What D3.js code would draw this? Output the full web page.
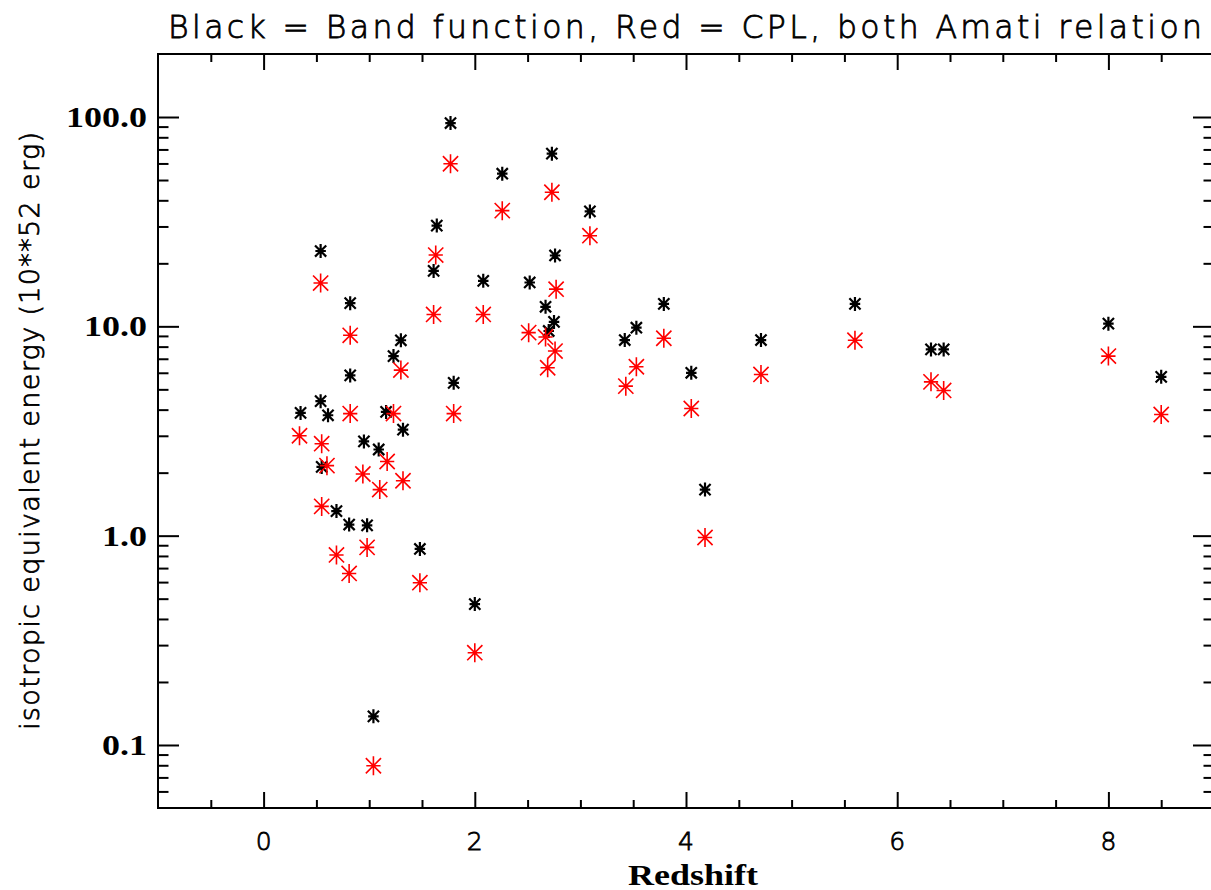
<!DOCTYPE html>
<html>
<head>
<meta charset="utf-8">
<script src="https://cdn.jsdelivr.net/npm/d3@7"></script>
<style>
  html, body { margin: 0; padding: 0; background: #fff; overflow: hidden; }
  svg { display: block; }
  .sans { font-family: "DejaVu Sans", sans-serif; font-weight: 200; fill: #000; stroke: #000; stroke-width: 0.8; }
  .serif { font-family: "Liberation Serif", "DejaVu Serif", serif; font-weight: bold; fill: #000; }
</style>
</head>
<body>
<svg id="chart"></svg>
<script>
// Band function fits (black)
const bandZ = [0.35, 0.54, 0.54, 0.55, 0.61, 0.69, 0.81, 0.82, 0.82, 0.95,
  0.98, 1.04, 1.09, 1.16, 1.23, 1.30, 1.32, 1.48, 1.61, 1.64,
  1.77, 1.80, 2.00, 2.08, 2.26, 2.52, 2.67, 2.70, 2.73, 2.75,
  2.76, 3.09, 3.42, 3.53, 3.79, 4.05, 4.18, 4.71, 5.60, 6.32,
  6.44, 8.00, 8.50];
const bandE = [3.86, 22.9, 4.39, 2.13, 3.76, 1.31, 1.13, 12.9, 5.83, 2.82,
  1.12, 0.137, 2.58, 3.9, 7.21, 8.58, 3.21, 0.864, 18.4, 30.3,
  93.6, 5.37, 0.471, 16.5, 53.6, 16.2, 12.4, 9.5, 66.8, 10.5,
  21.8, 35.4, 8.6, 9.85, 12.8, 6.0, 1.66, 8.6, 12.8, 7.76,
  7.76, 10.3, 5.74];

// CPL fits (red)
const cplZ = [0.34, 0.54, 0.55, 0.55, 0.60, 0.69, 0.81, 0.82, 0.82, 0.94,
  0.98, 1.04, 1.10, 1.17, 1.23, 1.30, 1.32, 1.48, 1.61, 1.63,
  1.77, 1.80, 2.00, 2.08, 2.26, 2.51, 2.67, 2.69, 2.73, 2.76,
  2.77, 3.09, 3.43, 3.53, 3.79, 4.05, 4.18, 4.71, 5.60, 6.32,
  6.44, 8.00, 8.50];
const cplE = [3.0, 16.1, 2.75, 1.38, 2.16, 0.809, 0.66, 3.83, 9.06, 1.97,
  0.879, 0.0796, 1.66, 2.26, 3.83, 6.18, 1.83, 0.596, 11.4, 21.9,
  59.8, 3.83, 0.276, 11.4, 35.7, 9.33, 8.9, 6.34, 43.7, 7.62,
  15.05, 27.1, 5.18, 6.41, 8.77, 4.05, 0.98, 5.89, 8.58, 5.43,
  4.94, 7.21, 3.79];

const xTickValues = [0, 2, 4, 6, 8];
const xTickLabels = ["0", "2", "4", "6", "8"];
const yTickValues = [100, 10, 1, 0.1];
const yTickLabels = ["100.0", "10.0", "1.0", "0.1"];

const titleText = "Black = Band function, Red = CPL, both Amati relation";
const xTitle = "Redshift";
const yTitle = "isotropic equivalent energy (10**52 erg)";

const width = 1211, height = 890;
const plot = { left: 158, right: 1214, top: 54, bottom: 808 };

const svg = d3.select("#chart").attr("width", width).attr("height", height);

const x = d3.scaleLinear().domain([-1, 9]).range([plot.left, plot.right]);
const y = d3.scaleLog().domain([0.05, 200]).range([plot.bottom, plot.top]);

// minor ticks: every 0.5 on x, 2..9 per decade on y
const xMinor = d3.range(-0.5, 9, 0.5).filter(v => !xTickValues.includes(v));
let yMinor = [];
[0.01, 0.1, 1, 10, 100].forEach(d => {
  for (let m = 2; m <= 9; m++) {
    const v = d * m;
    if (v > 0.05 + 1e-9 && v < 200 - 1e-9) yMinor.push(v);
  }
});

function tickAxis(axisFn, scale, values, size, transform) {
  const g = svg.append("g")
    .attr("transform", transform)
    .call(axisFn(scale).tickValues(values).tickSize(size).tickFormat(""));
  g.select(".domain").remove();
  g.selectAll("line").attr("stroke", "#000").attr("stroke-width", 2);
}

tickAxis(d3.axisBottom, x, xTickValues, -16, `translate(0,${plot.bottom})`);
tickAxis(d3.axisBottom, x, xMinor, -8, `translate(0,${plot.bottom})`);
tickAxis(d3.axisTop, x, xTickValues, -16, `translate(0,${plot.top})`);
tickAxis(d3.axisTop, x, xMinor, -8, `translate(0,${plot.top})`);
tickAxis(d3.axisLeft, y, yTickValues, -21, `translate(${plot.left},0)`);
tickAxis(d3.axisLeft, y, yMinor, -10.5, `translate(${plot.left},0)`);
tickAxis(d3.axisRight, y, yTickValues, -21, `translate(${plot.right},0)`);
tickAxis(d3.axisRight, y, yMinor, -10.5, `translate(${plot.right},0)`);

// frame
svg.append("rect")
  .attr("x", plot.left).attr("y", plot.top)
  .attr("width", plot.right - plot.left).attr("height", plot.bottom - plot.top)
  .attr("fill", "none").attr("stroke", "#000").attr("stroke-width", 2);

// tick labels
svg.append("g").selectAll("text")
  .data(xTickValues)
  .join("text")
  .attr("class", "sans")
  .attr("x", d => x(d))
  .attr("y", 850)
  .attr("text-anchor", "middle")
  .attr("font-size", 25)
  .text((d, i) => xTickLabels[i]);

svg.append("g").selectAll("text")
  .data(yTickValues)
  .join("text")
  .attr("class", "serif")
  .attr("transform", d => `translate(147,${y(d) + 10}) scale(1.2,1)`)
  .attr("text-anchor", "end")
  .attr("font-size", 30)
  .text((d, i) => yTickLabels[i]);

// titles
svg.append("text")
  .attr("class", "sans")
  .attr("x", 168).attr("y", 38)
  .attr("font-size", 31.5)
  .attr("textLength", 1034)
  .attr("lengthAdjust", "spacing")
  .text(titleText);

svg.append("text")
  .attr("class", "serif")
  .attr("transform", "translate(693,885) scale(1.2,1)")
  .attr("text-anchor", "middle")
  .attr("font-size", 30)
  .text(xTitle);

svg.append("text")
  .attr("class", "sans")
  .attr("transform", `translate(38.5,${(plot.top + plot.bottom) / 2}) rotate(-90)`)
  .attr("text-anchor", "middle")
  .attr("font-size", 27)
  .attr("textLength", 598)
  .attr("lengthAdjust", "spacing")
  .text(yTitle);

// asterisk symbol like IDL psym=2
function asterisk(r) {
  const d = r * 0.8;
  return `M0,${-r}L0,${r}M${-r * 0.75},0L${r * 0.75},0` +
    `M${-d},${-d}L${d},${d}M${-d},${d}L${d},${-d}`;
}

svg.append("g").selectAll("path")
  .data(d3.range(bandZ.length))
  .join("path")
  .attr("transform", i => `translate(${x(bandZ[i])},${y(bandE[i])})`)
  .attr("d", asterisk(7))
  .attr("fill", "none")
  .attr("stroke", "#000")
  .attr("stroke-width", 2.2);

svg.append("g").selectAll("path")
  .data(d3.range(cplZ.length))
  .join("path")
  .attr("transform", i => `translate(${x(cplZ[i])},${y(cplE[i])})`)
  .attr("d", asterisk(9.5))
  .attr("fill", "none")
  .attr("stroke", "#ff0000")
  .attr("stroke-width", 1.6);
</script>
</body>
</html>
